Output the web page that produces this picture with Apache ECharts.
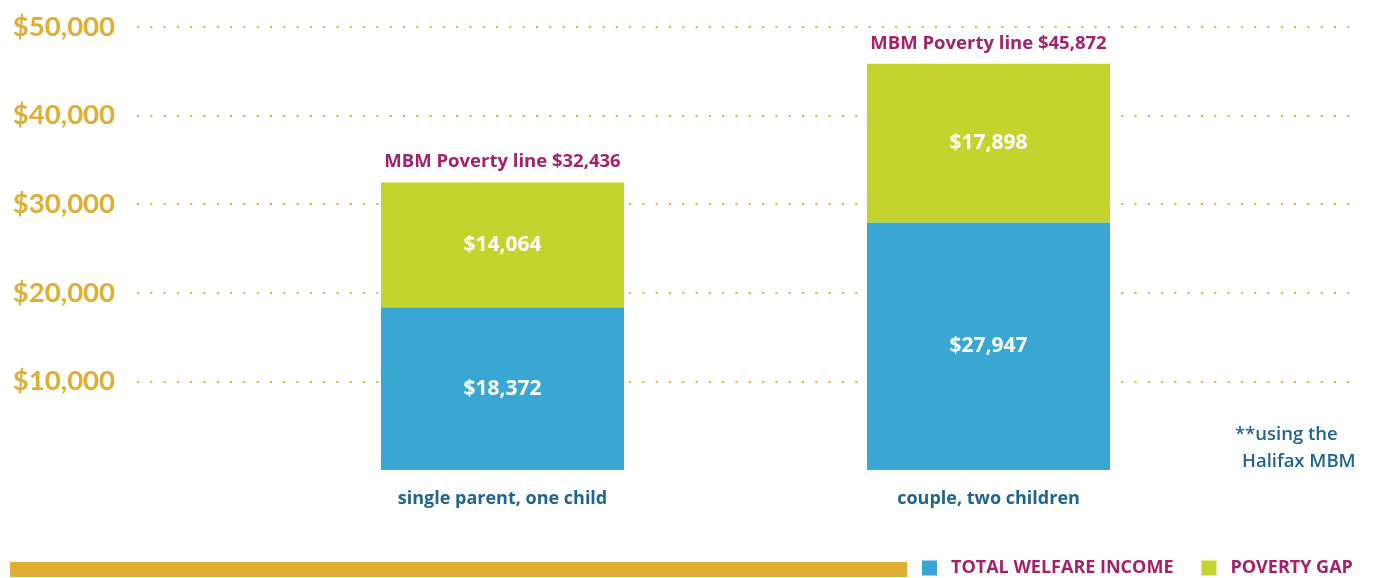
<!DOCTYPE html>
<html>
<head>
<meta charset="utf-8">
<script src="https://cdn.jsdelivr.net/npm/echarts@6/dist/echarts.min.js"></script>
<style>
  html, body { margin: 0; padding: 0; background: #fff; }
  #chart { width: 1381px; height: 578px; }
</style>
</head>
<body>
<div id="chart"></div>
<script>
// family types
let categories = ['single parent, one child', 'couple, two children'];
let welfareIncome = [18372, 27947];
let povertyGap = [14064, 17898];
let povertyLine = [32436, 45872];
let yTicks = [0, 10000, 20000, 30000, 40000, 50000];

const GOLD = '#DFAE33';
const BLUE = '#3AA6D4';
const GREEN = '#C3D42E';
const MAGENTA = '#A3226A';
const NAVY = '#21658F';
const TEXT_FONT = '"Open Sans", sans-serif';

let money = (v) => '$' + v.toLocaleString('en-US');

let chart = echarts.init(document.getElementById('chart'), null, { renderer: 'canvas' });

let option = {
    animation: false,
    grid: [
        // full width grid, only for the dotted lines and y labels
        { left: 137, right: 21, top: 27, bottom: 108 },
        // bar grid
        { left: 259.5, right: 149.5, top: 27, bottom: 108 }
    ],
    xAxis: [
        { gridIndex: 0, type: 'value', min: 0, max: 1, show: false },
        {
            gridIndex: 1,
            type: 'category',
            data: categories,
            axisLine: { show: false },
            axisTick: { show: false },
            axisLabel: {
                margin: 20,
                color: NAVY,
                fontFamily: TEXT_FONT,
                fontWeight: 'bold',
                fontSize: 18
            }
        }
    ],
    yAxis: [
        {
            gridIndex: 0,
            type: 'value',
            min: yTicks[0],
            max: yTicks[yTicks.length - 1],
            interval: 10000,
            axisLine: { show: false },
            axisTick: { show: false },
            axisLabel: {
                showMinLabel: false,
                margin: 22,
                color: GOLD,
                fontFamily: 'Lato, sans-serif',
                fontWeight: 'bold',
                fontSize: 27.5,
                padding: [7, 0, 0, 0],
                formatter: (v) => money(v)
            },
            splitLine: {
                show: true,
                showMinLine: false,
                lineStyle: { color: GOLD, width: 2, type: [2, 11.3] }
            }
        },
        {
            gridIndex: 1,
            type: 'value',
            min: yTicks[0],
            max: yTicks[yTicks.length - 1],
            show: false
        }
    ],
    legend: {
        left: 922,
        top: 559,
        padding: 0,
        icon: 'rect',
        itemWidth: 15,
        itemHeight: 15,
        itemGap: 28,
        textStyle: {
            color: MAGENTA,
            fontFamily: TEXT_FONT,
            fontWeight: 'bold',
            fontSize: 18,
            padding: [0, 0, 0, 9]
        },
        data: ['TOTAL WELFARE INCOME', 'POVERTY GAP']
    },
    graphic: [
        { type: 'rect', left: 10, top: 562, shape: { width: 897, height: 15 }, style: { fill: GOLD } },
        {
            type: 'text', left: 1235, top: 425,
            style: { text: '**using the', fill: NAVY, font: '600 18.5px "Open Sans", sans-serif' }
        },
        {
            type: 'text', left: 1242, top: 452,
            style: { text: 'Halifax MBM', fill: NAVY, font: '600 18.5px "Open Sans", sans-serif' }
        }
    ],
    series: [
        {
            name: 'TOTAL WELFARE INCOME',
            type: 'bar',
            xAxisIndex: 1,
            yAxisIndex: 1,
            stack: 'total',
            barWidth: '50%',
            data: welfareIncome,
            itemStyle: { color: BLUE },
            label: {
                show: true,
                position: 'inside',
                color: '#fff',
                fontFamily: TEXT_FONT,
                fontWeight: 'bold',
                fontSize: 21,
                padding: [3, 0, 0, 0],
                formatter: (p) => money(p.value)
            }
        },
        {
            name: 'POVERTY GAP',
            type: 'bar',
            xAxisIndex: 1,
            yAxisIndex: 1,
            stack: 'total',
            barWidth: '50%',
            data: povertyGap,
            itemStyle: { color: GREEN },
            label: {
                show: true,
                position: 'inside',
                color: '#fff',
                fontFamily: TEXT_FONT,
                fontWeight: 'bold',
                fontSize: 21,
                padding: [3, 0, 0, 0],
                formatter: (p) => money(p.value)
            }
        },
        {
            // poverty line captions above each bar
            name: 'line',
            type: 'bar',
            xAxisIndex: 1,
            yAxisIndex: 1,
            stack: 'total',
            barWidth: '50%',
            data: povertyGap.map(() => 0),
            itemStyle: { color: 'transparent' },
            silent: true,
            label: {
                show: true,
                position: 'top',
                distance: 11,
                color: MAGENTA,
                fontFamily: TEXT_FONT,
                fontWeight: 'bold',
                fontSize: 18.5,
                formatter: (p) => 'MBM Poverty line ' + money(povertyLine[p.dataIndex])
            }
        }
    ]
};

chart.setOption(option);
</script>
</body>
</html>
